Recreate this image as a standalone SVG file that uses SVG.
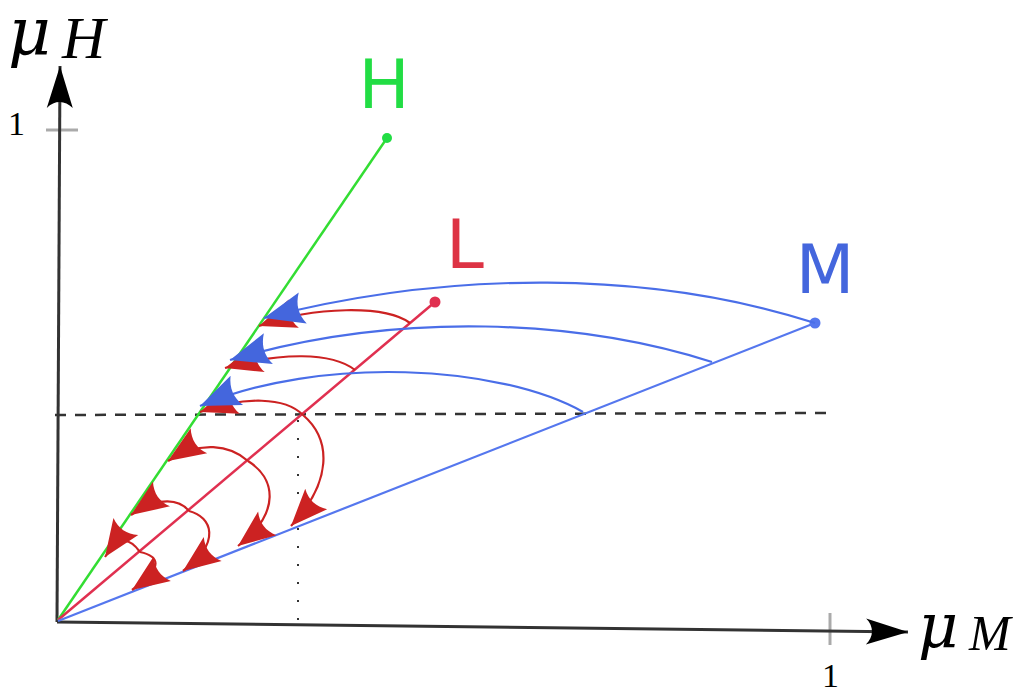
<svg xmlns="http://www.w3.org/2000/svg" width="1029" height="692" viewBox="0 0 1029 692">
<style>
.axis{stroke:#333;stroke-width:3;fill:none}
.tick{stroke:#aaa;stroke-width:3}
.mu{font-family:"DejaVu Serif",serif;font-style:italic;fill:#000}
.math{font-family:"Liberation Serif",serif;font-style:italic;fill:#000}
.num{font-family:"Liberation Serif",serif;font-size:34px;fill:#000}
.lbl{font-family:"DejaVu Sans",sans-serif;font-size:68px}
.rarc{stroke:#cc2222;stroke-width:2.2;fill:none;marker-end:url(#ar)}
.barc{stroke:#4a6ee8;stroke-width:2.2;fill:none;marker-end:url(#ab)}
</style>
<defs>
<marker id="ar" viewBox="-45 -20 50 40" markerWidth="50" markerHeight="40" refX="0" refY="0" orient="auto" markerUnits="userSpaceOnUse">
<path d="M0,0 L-37,-15 C-31,-5 -31,5 -37,15 Z" fill="#cc2222"/>
</marker>
<marker id="ab" viewBox="-45 -20 50 40" markerWidth="50" markerHeight="40" refX="0" refY="0" orient="auto" markerUnits="userSpaceOnUse">
<path d="M0,0 L-40,-16 C-34,-5 -34,5 -40,16 Z" fill="#4466dd"/>
</marker>
<marker id="ax" viewBox="-50 -20 55 40" markerWidth="55" markerHeight="40" refX="0" refY="0" orient="auto" markerUnits="userSpaceOnUse">
<path d="M0,0 L-42,-13 C-34,-5 -34,5 -42,13 Z" fill="#000"/>
</marker>
</defs>
<rect width="1029" height="692" fill="#fff"/>
<g id="axes">
<line class="tick" x1="46" y1="130" x2="78" y2="130"/>
<line class="tick" x1="830" y1="613" x2="830" y2="645"/>
<path class="axis" d="M57,622 L60,66" marker-end="url(#ax)"/>
<path class="axis" d="M57,622 L908,632" marker-end="url(#ax)"/>
<text class="mu" x="8" y="54" font-size="66">μ</text>
<text class="math" x="62" y="58" font-size="60">H</text>
<text class="mu" x="918" y="647" font-size="62">μ</text>
<text class="math" x="969" y="650" font-size="50">M</text>
<text class="num" x="8" y="135">1</text>
<text class="num" x="822" y="687">1</text>
</g>
<g id="guides">
<line x1="55" y1="415" x2="830" y2="413" stroke="#333" stroke-width="2.5" stroke-dasharray="11 9"/>
<line x1="298" y1="420" x2="298" y2="620" stroke="#333" stroke-width="2" stroke-dasharray="2 16"/>
</g>
<g id="H">
<line x1="58" y1="620" x2="387" y2="138" stroke="#33dd33" stroke-width="2.5"/>
<circle cx="387" cy="138" r="5" fill="#22dd44"/>
<text class="lbl" x="384" y="108" text-anchor="middle" fill="#22dd44">H</text>
</g>
<g id="L">
<line x1="58" y1="620" x2="435" y2="302" stroke="#e03050" stroke-width="2.5"/>
<circle cx="435" cy="302" r="5.5" fill="#e03050"/>
<text class="lbl" x="446" y="268" fill="#dd3344">L</text>
</g>
<g id="M">
<line x1="58" y1="621" x2="815" y2="323" stroke="#5577ee" stroke-width="2.2"/>
<circle cx="815" cy="323" r="5.5" fill="#5577ee"/>
<text class="lbl" x="825" y="293" text-anchor="middle" fill="#4466dd">M</text>
</g>
<g id="connectors">
<path class="rarc" d="M410,323 C385,305 315,306 259,326"/>
<path class="rarc" d="M355,370 C332,352 280,352 225,368"/>
<path class="rarc" d="M303,415 C285,397 245,396 200,412"/>
<path class="rarc" d="M303,415 C332,440 332,482 291,526"/>
<path class="rarc" d="M248,461 C230,445 200,440 168,461"/>
<path class="rarc" d="M248,461 C275,478 282,512 238,546"/>
<path class="rarc" d="M189,511 C180,500 160,495 131,515"/>
<path class="rarc" d="M189,511 C212,517 222,542 183,571"/>
<path class="rarc" d="M140,552 C130,538 120,535 105,557"/>
<path class="rarc" d="M140,552 C158,556 166,566 132,590"/>
<path class="barc" d="M815,323 C650,270 450,270 264,318"/>
<path class="barc" d="M712,362 C580,320 400,310 230,360"/>
<path class="barc" d="M583,412 C500,365 320,355 200,406"/>
</g>
</svg>
